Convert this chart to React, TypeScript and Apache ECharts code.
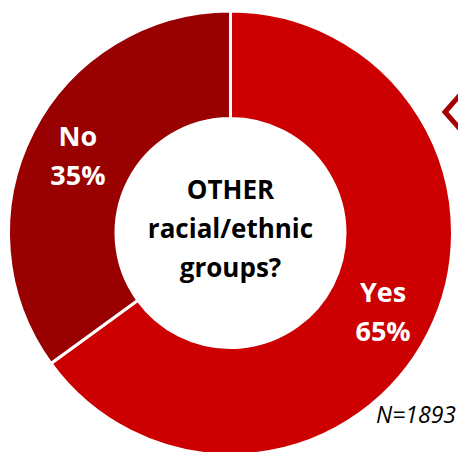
import React, { useEffect, useRef } from "react";
import * as echarts from "echarts";

const categories = ["Yes", "No"];
const values = [65, 35];
const colors = ["#CC0000", "#990000"];
const centerLines = ["OTHER", "racial/ethnic", "groups?"];
const sampleNote = "N=1893";

export default function App() {
  const ref = useRef<HTMLDivElement>(null);
  useEffect(() => {
    if (!ref.current) return;
    const chart = echarts.init(ref.current, null, { renderer: "svg" });
    const font = "'Open Sans', sans-serif";
    chart.setOption({
      animation: false,
      backgroundColor: "#ffffff",
      series: [
        {
          type: "pie",
          center: [230.5, 233],
          radius: [114.5, 222],
          startAngle: 90,
          clockwise: true,
          avoidLabelOverlap: false,
          itemStyle: { borderColor: "#ffffff", borderWidth: 3 },
          label: {
            show: true,
            position: "inside",
            formatter: "{b}\n{c}%",
            color: "#ffffff",
            fontFamily: font,
            fontWeight: "bold",
            fontSize: 27,
            lineHeight: 39,
          },
          labelLine: { show: false },
          emphasis: { disabled: true },
          data: categories.map((c, i) => ({
            name: c,
            value: values[i],
            itemStyle: { color: colors[i] },
          })),
        },
      ],
      graphic: [
        {
          type: "text",
          x: 230.5,
          y: 228,
          style: {
            text: centerLines.join("\n"),
            fill: "#000000",
            font: `bold 26px ${font}`,
            lineHeight: 39,
            align: "center",
            verticalAlign: "middle",
          },
        },
        {
          type: "text",
          x: 456,
          y: 414,
          style: {
            text: sampleNote,
            fill: "#000000",
            font: `italic 23px ${font}`,
            align: "right",
            verticalAlign: "middle",
          },
        },
        {
          type: "polyline",
          shape: { points: [[460, 95], [445, 112], [460, 129]] },
          style: { stroke: "#A50000", lineWidth: 5, fill: "none" },
        },
      ],
    });
    return () => chart.dispose();
  }, []);
  return (
    <div
      ref={ref}
      style={{ position: "fixed", left: 0, top: 0, width: 458, height: 452 }}
    />
  );
}
